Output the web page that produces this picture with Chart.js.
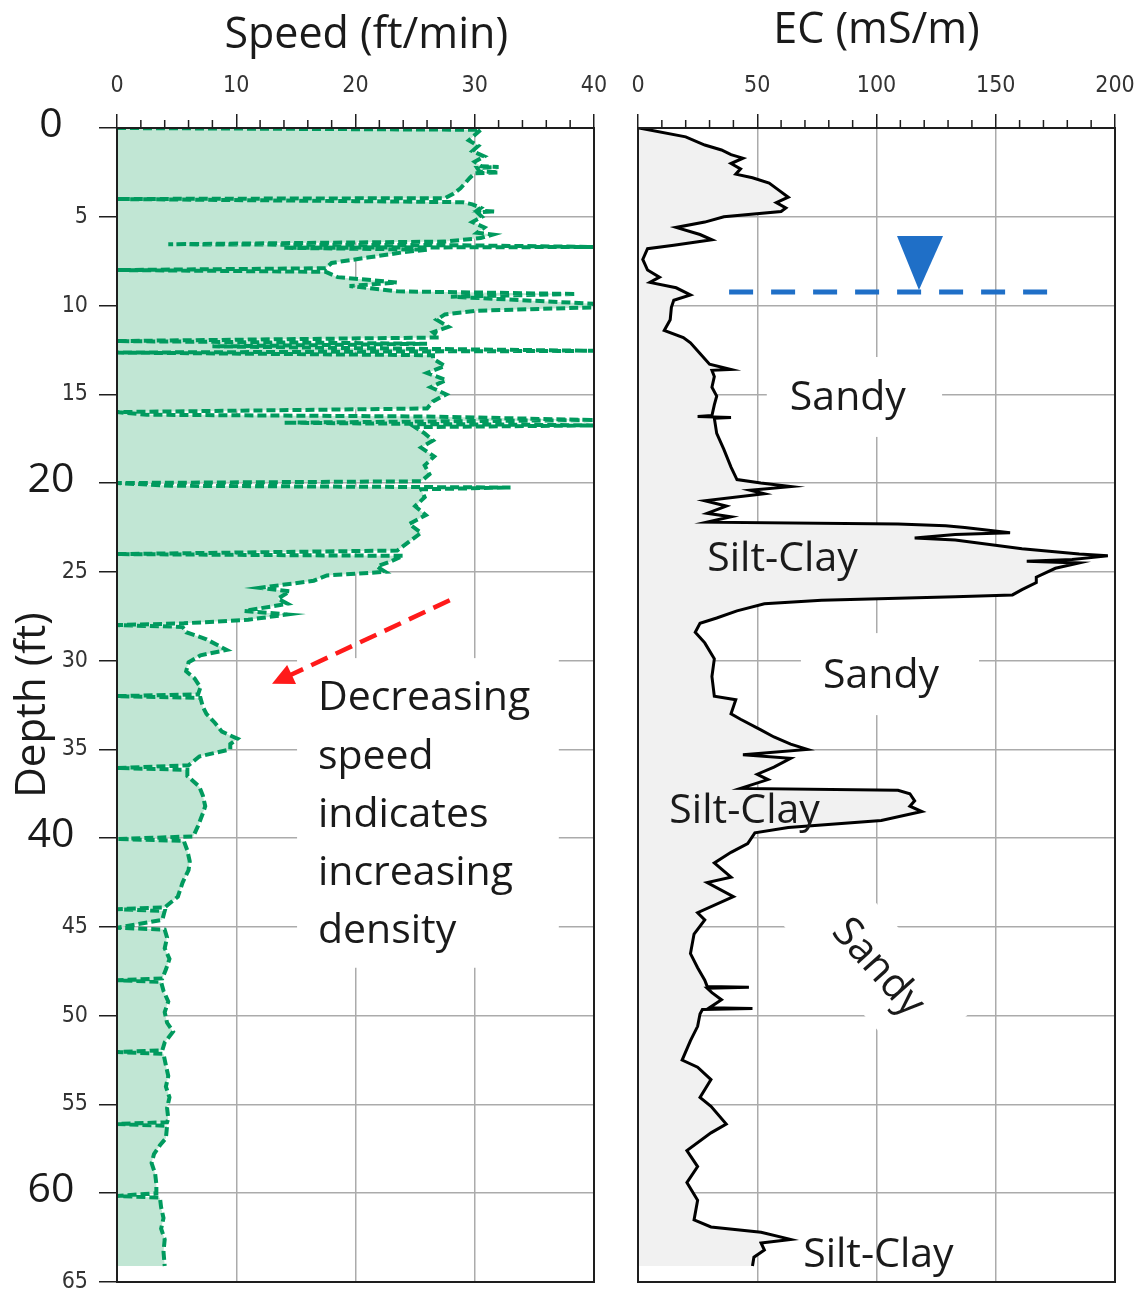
<!DOCTYPE html>
<html>
<head>
<meta charset="utf-8">
<title>Speed and EC depth profiles</title>
<script src="https://cdn.jsdelivr.net/npm/chart.js@4.4.1/dist/chart.umd.min.js"></script>
<style>
  html, body { margin: 0; padding: 0; background: #fff; }
  #wrap { position: relative; width: 1136px; height: 1292px; overflow: hidden; }
  canvas { position: absolute; top: 0; }
  #speedChart { left: 0; }
  #ecChart { left: 615px; }
</style>
</head>
<body>
<div id="wrap">
  <canvas id="speedChart" width="615" height="1292"></canvas>
  <canvas id="ecChart" width="521" height="1292"></canvas>
</div>
<script>
// Speed log (ft/min) vs depth (ft)
const speedDepth = [
  0, 0.1, 0.4, 0.7, 1.0, 1.3, 1.6, 1.9, 2.15, 2.2,
  2.25, 2.45, 2.5, 2.55, 2.8, 3.1, 3.4, 3.7, 3.95, 4.0,
  4.12, 4.18, 4.3, 4.5, 4.65, 4.7, 4.75, 5.0, 5.3, 5.6,
  5.9, 6.0, 6.2, 6.4, 6.55, 6.6, 6.7, 6.75, 6.85, 7.0,
  7.3, 7.6, 7.9, 8.0, 8.1, 8.4, 8.7, 8.9, 9.2, 9.35,
  9.5, 9.9, 10.1, 10.3, 10.5, 10.8, 11.2, 11.5, 11.8, 12.0,
  12.15, 12.3, 12.45, 12.55, 12.65, 12.8, 13.0, 13.4, 13.8, 14.2,
  14.6, 15.0, 15.4, 15.8, 16.0, 16.15, 16.25, 16.45, 16.6, 16.75,
  16.85, 17.2, 17.6, 18.0, 18.5, 19.0, 19.5, 19.9, 20.0, 20.15,
  20.25, 20.35, 20.8, 21.3, 21.8, 22.3, 22.8, 23.3, 23.8, 24.0,
  24.1, 24.4, 24.7, 25.0, 25.2, 25.5, 25.9, 26.1, 26.5, 26.8,
  27.2, 27.4, 27.7, 27.9, 28.0, 28.1, 28.4, 28.8, 29.4, 29.7,
  30.1, 30.6, 31.0, 31.5, 31.9, 32.0, 32.1, 32.6, 33.0, 33.5,
  34.0, 34.4, 34.7, 35.0, 35.4, 35.9, 36.05, 36.15, 36.5, 37.1,
  37.6, 38.2, 38.6, 39.3, 39.9, 40.05, 40.15, 40.7, 41.3, 41.8,
  42.5, 43.3, 43.9, 44.0, 44.1, 44.6, 45.05, 45.15, 45.6, 46.2,
  46.8, 47.4, 47.9, 48.0, 48.1, 48.6, 49.2, 49.8, 50.4, 50.9,
  51.5, 51.95, 52.05, 52.15, 52.8, 53.4, 54.0, 54.6, 55.2, 55.8,
  56.0, 56.1, 56.2, 56.9, 57.3, 57.8, 58.3, 58.9, 59.5, 60.0,
  60.15, 60.25, 60.8, 61.4, 62.0, 62.6, 63.3, 64.1
]
const speedValue = [
  0, 30.5, 30, 29.5, 30.3, 29.8, 30.8, 30, 30.5, 32,
  30.2, 30.4, 32, 30, 29.6, 29.2, 28.8, 28.2, 27.5, 0,
  20, 29, 29.8, 30.5, 30.2, 31.7, 30.2, 30.6, 29.8, 30.8,
  30.2, 31.5, 30.5, 27.5, 4.3, 28, 40, 14, 26, 24,
  21, 18, 17.5, 0, 17.5, 18.5, 23.5, 19.5, 23.5, 38.5,
  28, 40, 40, 30, 27.5, 26.8, 27.8, 26.5, 27, 0,
  26, 8, 27, 40, 0, 26.5, 26.5, 27.5, 26, 27.6,
  26.3, 27.6, 26.5, 26, 0, 2.5, 26, 40, 14, 40,
  25, 25.8, 26.5, 25.5, 26.6, 25.8, 26.2, 25.5, 0, 4.5,
  33, 25.5, 25.8, 25, 25.9, 24.5, 25.5, 24.5, 23.5, 0,
  24, 23, 21.8, 22.5, 17.6, 16.5, 12, 14.5, 13.5, 14.3,
  10.7, 14.3, 11, 5.6, 0, 5.5, 5.8, 7.5, 9.2, 7,
  6, 5.8, 6.5, 7, 6.8, 0, 7, 7.2, 7.5, 8.2,
  8.8, 10.1, 9.5, 9.5, 6.9, 6, 0, 5.9, 5.9, 6.9,
  7.2, 7.4, 7.2, 6.8, 6.4, 0, 5.6, 5.9, 6.1, 6,
  5.5, 5.1, 4, 0, 4, 3.8, 0, 4, 4.2, 4,
  4.4, 4.1, 3.8, 0, 3.7, 3.9, 4.3, 4, 4.2, 4.7,
  4, 3.8, 0, 3.9, 4.1, 4.3, 4.1, 4.4, 4.2, 4.3,
  4.2, 0, 4.2, 4.1, 3.6, 3.1, 2.9, 3.2, 3.3, 3.3,
  0, 3.6, 3.7, 3.9, 3.7, 4, 3.9, 4
]

// EC log (mS/m) vs depth (ft)
const ecDepth = [
  0, 0.5, 0.96, 1.24, 1.5, 1.7, 2.0, 2.3, 2.6, 2.8,
  3.1, 3.5, 3.9, 4.2, 4.5, 4.7, 4.9, 5.0, 5.3, 5.6,
  6.0, 6.3, 6.6, 6.8, 7.4, 8.0, 8.4, 8.7, 9.0, 9.4,
  9.7, 10.1, 10.8, 11.4, 11.8, 12.1, 12.7, 13.3, 13.6, 13.65,
  14.0, 14.6, 15.1, 15.6, 16.2, 16.25, 16.3, 16.35, 17.2, 18.1,
  19.1, 19.8, 20.0, 20.2, 20.4, 20.6, 21.0, 21.3, 21.7, 21.9,
  22.2, 22.3, 22.4, 22.5, 22.8, 22.9, 23.1, 23.2, 23.7, 24.0,
  24.1, 24.3, 24.4, 24.5, 24.8, 25.3, 25.6, 26.0, 26.3, 26.4,
  26.6, 26.8, 27.2, 27.6, 27.9, 28.4, 29.0, 29.9, 30.9, 32.0,
  32.2, 33.0, 33.3, 33.9, 34.3, 34.7, 35.0, 35.3, 35.5, 36.0,
  36.4, 36.7, 37.2, 37.3, 37.5, 37.9, 38.2, 38.5, 39.0, 39.4,
  39.7, 40.3, 40.8, 41.4, 42.2, 42.5, 43.3, 44.2, 44.6, 45.4,
  46.5, 47.3, 48.0, 48.35, 48.4, 48.45, 48.7, 49.1, 49.55, 49.6,
  49.65, 49.9, 50.6, 51.4, 52.5, 52.9, 53.6, 54.6, 55.1, 56.1,
  56.6, 57.6, 58.5, 59.4, 60.4, 61.5, 61.9, 62.2, 62.6, 62.8,
  63.2, 63.6, 64.1
]
const ecValue = [
  0.5, 20, 28, 35, 39, 44, 39, 43, 41, 48,
  55, 59, 63, 58, 62, 60, 44, 36, 28, 16,
  26, 31, 15, 4, 2, 4, 9, 5, 16, 22,
  15, 14, 13.5, 11, 19, 22, 26, 30, 39, 31,
  32, 31, 33, 32, 31, 25, 39, 32, 33, 36,
  39, 41.5, 51.5, 64, 47, 53, 28, 37, 29, 39,
  29, 109, 129, 137, 156, 133, 116, 133, 161, 185,
  197, 182, 163, 185, 175, 167, 167, 161, 157, 133,
  77, 53, 41.5, 33, 26, 24, 28, 32, 31, 32,
  41, 39, 43, 51.5, 57, 64, 71, 44, 64, 57,
  50, 54.5, 43, 109, 114, 116, 114, 119, 102, 63,
  49, 46, 39, 32, 39, 29, 40, 25, 28, 23.5,
  22, 25, 28, 29, 46.5, 29, 31, 35, 30, 48,
  27, 26, 25, 22, 18.5, 25, 30.6, 26, 30.6, 37,
  30.6, 20.5, 25, 20.5, 25, 23.5, 30.6, 51.6, 64, 51.6,
  53, 48.6, 48
]

const speedTicks = [0, 10, 20, 30, 40]
const ecTicks = [0, 50, 100, 150, 200]
const depthTicks = [0, 5, 10, 15, 20, 25, 30, 35, 40, 45, 50, 55, 60, 65]
const depthBigTicks = [0, 20, 40, 60]

const noteLines = ['Decreasing', 'speed', 'indicates', 'increasing', 'density']
const soilLabels = [
  { text: 'Sandy', ec: 88, depth: 15.2, box: [54, 127.5, 12.9, 17.4] },
  { text: 'Silt-Clay', ec: 60.6, depth: 24.3 },
  { text: 'Sandy', ec: 101.9, depth: 30.9, box: [68.3, 143, 28.45, 33.07] },
  { text: 'Silt-Clay', ec: 44.7, depth: 38.5 },
  { text: 'Sandy', ec: 100.6, depth: 47.3, angle: 48 },
  { text: 'Silt-Clay', ec: 100.8, depth: 63.5 },
]

const TEXT_FONT = "'Open Sans', 'Noto Sans', sans-serif"
const TICK_FONT = "'Liberation Sans Narrow', 'Arial Narrow', 'DejaVu Sans Condensed', sans-serif"
const GRID = '#ababab'
const FRAME = '#1e1e1e'
const INK = '#1a1a1a'

const toPoints = (depths, values) => depths.map((d, i) => ({ x: values[i], y: d }))

// box round the plot area
const framePlugin = {
  id: 'frame',
  afterDatasetsDraw(chart) {
    const { ctx, chartArea: a } = chart
    ctx.save()
    ctx.strokeStyle = FRAME
    ctx.lineWidth = 2
    ctx.strokeRect(a.left, a.top, a.right - a.left, a.bottom - a.top)
    ctx.restore()
  },
}

// short ticks between the labelled ones on the top axis
function minorTicks(step) {
  return {
    id: 'minorTicks',
    afterDraw(chart) {
      const sx = chart.scales.x
      const top = chart.chartArea.top
      const ctx = chart.ctx
      const n = Math.round((sx.max - sx.min) / step)
      ctx.save()
      ctx.strokeStyle = FRAME
      ctx.lineWidth = 1.5
      for (let i = 1; i < n; i++) {
        const v = sx.min + i * step
        if (sx.ticks.some((t) => t.value === v)) continue
        const px = sx.getPixelForValue(v)
        ctx.beginPath()
        ctx.moveTo(px, top - 8)
        ctx.lineTo(px, top)
        ctx.stroke()
      }
      ctx.restore()
    },
  }
}

function topAxis(max, ticks, title, titlePad) {
  return {
    type: 'linear',
    position: 'top',
    min: 0,
    max: max,
    afterBuildTicks: (s) => {
      s.ticks = ticks.map((v) => ({ value: v }))
    },
    ticks: {
      font: { family: TICK_FONT, size: 23 },
      color: '#333',
      padding: 14,
      maxRotation: 0,
      autoSkip: false,
    },
    grid: { color: GRID, lineWidth: 1.5, tickLength: 14, tickColor: FRAME, tickWidth: 1.5 },
    border: { color: FRAME, width: 2 },
    title: {
      display: true,
      text: title,
      font: { family: TEXT_FONT, size: 43 },
      color: INK,
      padding: { top: titlePad, bottom: 0 },
    },
    afterFit: (s) => {
      s.height = 128
      s.paddingLeft = 0
      s.paddingRight = 0
    },
  }
}

const speedNotes = {
  id: 'speedNotes',
  beforeDatasetsDraw(chart) {
    const { ctx, scales } = chart
    const x0 = scales.x.getPixelForValue(15.1)
    const x1 = scales.x.getPixelForValue(37.05)
    const y0 = scales.y.getPixelForValue(29.86)
    const y1 = scales.y.getPixelForValue(47.3)
    ctx.save()
    ctx.fillStyle = '#fff'
    ctx.fillRect(x0, y0, x1 - x0, y1 - y0)
    ctx.restore()
  },
  afterDraw(chart) {
    const { ctx, scales } = chart
    const sx = scales.x
    const sy = scales.y
    ctx.save()

    // big depth labels
    ctx.fillStyle = INK
    ctx.font = `41px ${TEXT_FONT}`
    ctx.textAlign = 'center'
    ctx.textBaseline = 'middle'
    depthBigTicks.forEach((v) => ctx.fillText(String(v), 51, sy.getPixelForValue(v) - 3))

    // note text
    ctx.textAlign = 'left'
    noteLines.forEach((t, i) => {
      ctx.fillText(t, sx.getPixelForValue(16.85), sy.getPixelForValue(32.15 + i * 3.27))
    })

    // red dashed arrow
    const ax0 = sx.getPixelForValue(27.9)
    const ay0 = sy.getPixelForValue(26.6)
    const ax1 = sx.getPixelForValue(13.0)
    const ay1 = sy.getPixelForValue(31.3)
    const ang = Math.atan2(ay1 - ay0, ax1 - ax0)
    const head = 24
    ctx.strokeStyle = '#ff1a1a'
    ctx.fillStyle = '#ff1a1a'
    ctx.lineWidth = 4.5
    ctx.setLineDash([18, 9])
    ctx.beginPath()
    ctx.moveTo(ax0, ay0)
    ctx.lineTo(ax1 - Math.cos(ang) * head * 0.8, ay1 - Math.sin(ang) * head * 0.8)
    ctx.stroke()
    ctx.setLineDash([])
    ctx.beginPath()
    ctx.moveTo(ax1, ay1)
    ctx.lineTo(ax1 - Math.cos(ang - 0.45) * head, ay1 - Math.sin(ang - 0.45) * head)
    ctx.lineTo(ax1 - Math.cos(ang + 0.45) * head, ay1 - Math.sin(ang + 0.45) * head)
    ctx.closePath()
    ctx.fill()
    ctx.restore()
  },
}

const ecNotes = {
  id: 'ecNotes',
  beforeDatasetsDraw(chart) {
    const { ctx, scales } = chart
    const sx = scales.x
    const sy = scales.y
    ctx.save()
    ctx.fillStyle = '#fff'
    soilLabels.forEach((l) => {
      if (l.box) {
        const [e0, e1, d0, d1] = l.box
        const x0 = sx.getPixelForValue(e0)
        const y0 = sy.getPixelForValue(d0)
        ctx.fillRect(x0, y0, sx.getPixelForValue(e1) - x0, sy.getPixelForValue(d1) - y0)
      } else if (l.angle) {
        ctx.save()
        ctx.translate(sx.getPixelForValue(l.ec), sy.getPixelForValue(l.depth))
        ctx.rotate((l.angle * Math.PI) / 180)
        ctx.fillRect(-95, -42, 190, 84)
        ctx.restore()
      }
    })
    ctx.restore()
  },
  afterDraw(chart) {
    const { ctx, scales } = chart
    const sx = scales.x
    const sy = scales.y
    ctx.save()
    ctx.fillStyle = INK
    ctx.font = `41px ${TEXT_FONT}`
    ctx.textAlign = 'center'
    ctx.textBaseline = 'middle'
    soilLabels.forEach((l) => {
      ctx.save()
      ctx.translate(sx.getPixelForValue(l.ec), sy.getPixelForValue(l.depth))
      if (l.angle) ctx.rotate((l.angle * Math.PI) / 180)
      ctx.fillText(l.text, 0, 0)
      ctx.restore()
    })

    // water table marker
    const blue = '#1f6fc7'
    const wy = sy.getPixelForValue(9.24)
    ctx.strokeStyle = blue
    ctx.lineWidth = 5
    ctx.setLineDash([24, 18])
    ctx.beginPath()
    ctx.moveTo(sx.getPixelForValue(38.2), wy)
    ctx.lineTo(sx.getPixelForValue(171.9), wy)
    ctx.stroke()
    ctx.setLineDash([])
    ctx.fillStyle = blue
    ctx.beginPath()
    ctx.moveTo(sx.getPixelForValue(108.6), sy.getPixelForValue(6.09))
    ctx.lineTo(sx.getPixelForValue(127.9), sy.getPixelForValue(6.09))
    ctx.lineTo(sx.getPixelForValue(117.8), sy.getPixelForValue(9.13))
    ctx.closePath()
    ctx.fill()
    ctx.restore()
  },
}

const common = {
  indexAxis: 'y',
  responsive: false,
  animation: false,
  devicePixelRatio: 1,
  events: [],
  plugins: { legend: { display: false }, tooltip: { enabled: false } },
}

new Chart(document.getElementById('speedChart'), {
  type: 'line',
  data: {
    datasets: [
      {
        data: toPoints(speedDepth, speedValue),
        borderColor: '#009a5e',
        backgroundColor: '#c1e6d4',
        borderWidth: 4,
        borderDash: [9, 4],
        fill: 'origin',
        pointRadius: 0,
        tension: 0,
      },
    ],
  },
  options: {
    ...common,
    layout: { padding: { top: 0, right: 21, bottom: 10, left: 0 } },
    scales: {
      // leading en space nudges the centred title to the right, as in the source figure
      x: topAxis(40, speedTicks, '\u2002Speed (ft/min)', 10),
      y: {
        type: 'linear',
        reverse: true,
        min: 0,
        max: 65,
        afterBuildTicks: (s) => {
          s.ticks = depthTicks.map((v) => ({ value: v }))
        },
        ticks: {
          callback: (v) => (depthBigTicks.includes(v) ? '' : String(v)),
          font: { family: TICK_FONT, size: 23 },
          color: '#333',
          padding: 11,
          autoSkip: false,
        },
        grid: { color: GRID, lineWidth: 1.5, tickLength: 18, tickColor: FRAME, tickWidth: 1.5 },
        border: { color: FRAME, width: 2 },
        title: {
          display: true,
          text: 'Depth (ft)',
          font: { family: TEXT_FONT, size: 42 },
          color: INK,
          padding: { top: 8, bottom: 0 },
        },
        afterFit: (s) => {
          s.width = 117
          s.paddingTop = 0
          s.paddingBottom = 0
        },
      },
    },
  },
  plugins: [framePlugin, minorTicks(2), speedNotes],
})

new Chart(document.getElementById('ecChart'), {
  type: 'line',
  data: {
    datasets: [
      {
        data: toPoints(ecDepth, ecValue),
        borderColor: '#000',
        backgroundColor: '#f1f1f1',
        borderWidth: 3,
        fill: 'origin',
        pointRadius: 0,
        tension: 0,
      },
    ],
  },
  options: {
    ...common,
    layout: { padding: { top: 0, right: 21, bottom: 10, left: 0 } },
    scales: {
      x: topAxis(200, ecTicks, 'EC (mS/m)', 5),
      y: {
        type: 'linear',
        reverse: true,
        min: 0,
        max: 65,
        afterBuildTicks: (s) => {
          s.ticks = depthTicks.map((v) => ({ value: v }))
        },
        ticks: { display: false },
        grid: { color: GRID, lineWidth: 1.5, drawTicks: false },
        border: { color: FRAME, width: 2 },
        afterFit: (s) => {
          s.width = 23
          s.paddingTop = 0
          s.paddingBottom = 0
        },
      },
    },
  },
  plugins: [framePlugin, minorTicks(10), ecNotes],
})
</script>
</body>
</html>
